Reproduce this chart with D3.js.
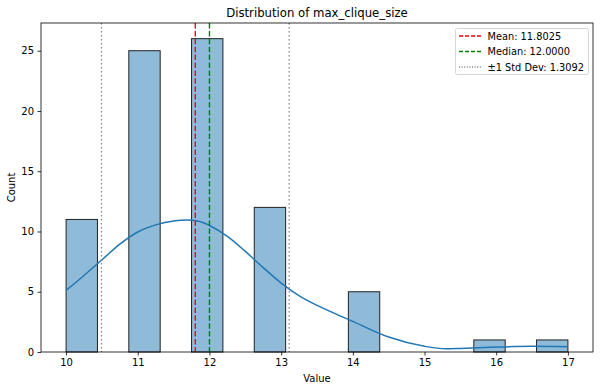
<!DOCTYPE html>
<html>
<head>
<meta charset="utf-8">
<script src="https://cdn.jsdelivr.net/npm/d3@7"></script>
<style>
body { margin: 0; background: #fff; }
svg text { font-family: "DejaVu Sans", sans-serif; fill: #000; }
</style>
</head>
<body>
<svg width="600" height="390"></svg>
<script>
// histogram bins (start, end) and counts
var binStarts = [10, 10.875, 11.75, 12.625, 13.9375, 15.6875, 16.5625]
var binWidth = 0.4375
var counts = [11, 25, 26, 12, 5, 1, 1]

// kde curve
var kdeX = [10, 10.25, 10.5, 10.75, 11, 11.25, 11.5, 11.68, 11.85, 12, 12.25, 12.5, 12.75, 13, 13.27, 13.54, 14, 14.5, 15, 15.3, 15.5, 16, 16.5, 17]
var kdeY = [5.11, 6.35, 7.65, 8.95, 9.96, 10.55, 10.88, 10.95, 10.85, 10.5, 9.6, 8.35, 7.0, 5.72, 4.6, 3.76, 2.54, 1.24, 0.47, 0.27, 0.3, 0.41, 0.47, 0.44]

var mean = 11.8025, median = 12.0, std = 1.3092
var xTicks = [10, 11, 12, 13, 14, 15, 16, 17]
var yTicks = [0, 5, 10, 15, 20, 25]

var svg = d3.select('svg')
var mLeft = 41, mRight = 593, mTop = 23, mBottom = 352

var x = d3.scaleLinear().domain([9.65, 17.35]).range([mLeft, mRight])
var y = d3.scaleLinear().domain([0, 27.3]).range([mBottom, mTop])

// bars
svg.append('g').selectAll('rect')
	.data(counts)
	.enter().append('rect')
	.attr('x', function(d, i) {return x(binStarts[i])})
	.attr('width', function(d, i) {return x(binStarts[i] + binWidth) - x(binStarts[i])})
	.attr('y', function(d) {return y(d)})
	.attr('height', function(d) {return y(0) - y(d)})
	.attr('fill', 'rgba(31,119,180,0.5)')
	.attr('stroke', '#222')
	.attr('stroke-width', 1)

// kde
var line = d3.line()
	.x(function(d, i) {return x(kdeX[i])})
	.y(function(d) {return y(d)})
	.curve(d3.curveMonotoneX)
svg.append('path')
	.attr('d', line(kdeY))
	.attr('fill', 'none')
	.attr('stroke', '#1f77b4')
	.attr('stroke-width', 1.5)

// reference lines
var refs = [
	{v: mean, color: 'red', dash: '5.5,2.4', w: 1.4},
	{v: median, color: 'green', dash: '5.5,2.4', w: 1.4},
	{v: mean - std, color: 'gray', dash: '1.5,2.5', w: 1.2},
	{v: mean + std, color: 'gray', dash: '1.5,2.5', w: 1.2}
]
svg.append('g').selectAll('line')
	.data(refs)
	.enter().append('line')
	.attr('x1', function(d) {return x(d.v)})
	.attr('x2', function(d) {return x(d.v)})
	.attr('y1', mTop)
	.attr('y2', mBottom)
	.attr('stroke', function(d) {return d.color})
	.attr('stroke-dasharray', function(d) {return d.dash})
	.attr('stroke-width', function(d) {return d.w})

// axes
svg.append('g')
	.attr('transform', 'translate(0,' + mBottom + ')')
	.call(d3.axisBottom(x).tickValues(xTicks).tickSize(3.5).tickPadding(3.5).tickFormat(d3.format('d')))
svg.append('g')
	.attr('transform', 'translate(' + mLeft + ',0)')
	.call(d3.axisLeft(y).tickValues(yTicks).tickSize(3.5).tickPadding(3.5).tickFormat(d3.format('d')))
svg.selectAll('.domain').remove()
svg.selectAll('.tick text').style('font-size', '10px').style('font-family', '"DejaVu Sans", sans-serif')
svg.selectAll('.tick line').attr('stroke', '#000').attr('stroke-width', 0.8)

// frame
svg.append('rect')
	.attr('x', mLeft).attr('y', mTop)
	.attr('width', mRight - mLeft).attr('height', mBottom - mTop)
	.attr('fill', 'none').attr('stroke', '#000').attr('stroke-width', 0.8)

// labels
svg.append('text').attr('x', (mLeft + mRight) / 2).attr('y', 17)
	.attr('text-anchor', 'middle').style('font-size', '11.7px')
	.text('Distribution of max_clique_size')
svg.append('text').attr('x', (mLeft + mRight) / 2).attr('y', 382)
	.attr('text-anchor', 'middle').style('font-size', '10px')
	.text('Value')
svg.append('text')
	.attr('transform', 'translate(15,' + (mTop + mBottom) / 2 + ') rotate(-90)')
	.attr('text-anchor', 'middle').style('font-size', '10px')
	.text('Count')

// legend
var legendItems = [
	{label: 'Mean: 11.8025', color: 'red', dash: '4,2'},
	{label: 'Median: 12.0000', color: 'green', dash: '4,2'},
	{label: '\u00b11 Std Dev: 1.3092', color: 'gray', dash: '1,1.6'}
]
var legend = svg.append('g')
legend.append('rect')
	.attr('x', 455.5).attr('y', 28.5).attr('width', 133).attr('height', 46)
	.attr('rx', 2).attr('fill', '#fff').attr('fill-opacity', 0.8)
	.attr('stroke', '#ccc').attr('stroke-width', 0.8)
var li = legend.selectAll('g.item').data(legendItems).enter().append('g').attr('class', 'item')
	.attr('transform', function(d, i) {return 'translate(0,' + (36 + i * 15.5) + ')'})
li.append('line').attr('x1', 459).attr('x2', 481).attr('y1', 0).attr('y2', 0)
	.attr('stroke', function(d) {return d.color})
	.attr('stroke-dasharray', function(d) {return d.dash})
	.attr('stroke-width', 1.4)
li.append('text').attr('x', 487.5).attr('y', 3.5).style('font-size', '9.8px')
	.text(function(d) {return d.label})
</script>
</body>
</html>
